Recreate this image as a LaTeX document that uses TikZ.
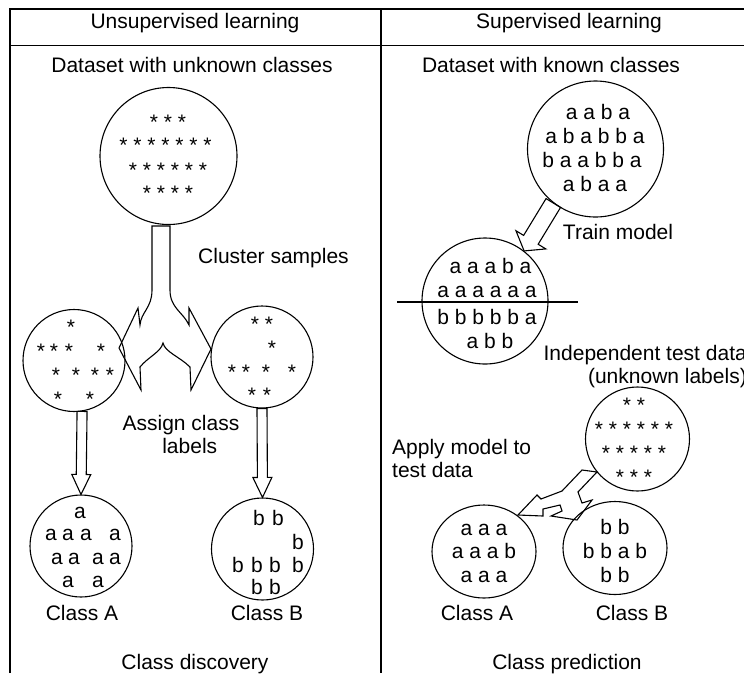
\documentclass[tikz,border=0pt]{standalone}
\usepackage{fontspec}
\setmainfont{Liberation Sans}
\usetikzlibrary{calc,shapes.geometric}

% block arrow: from, to, half shaft, half head, head length
\newcommand{\fatarrow}[5]{%
  \coordinate (fa-h) at ($(#2)!#5!(#1)$);
  \draw[fat] ($(#1)!#3!90:(#2)$) -- ($(fa-h)!#3!90:(#2)$) -- ($(fa-h)!#4!90:(#2)$) -- (#2)
    -- ($(fa-h)!#4!-90:(#2)$) -- ($(fa-h)!#3!-90:(#2)$) -- ($(#1)!#3!-90:(#2)$) -- cycle;
}

\begin{document}
\begin{tikzpicture}[x=1pt, y=-1pt,
  txt/.style={inner sep=0pt, font=\fontsize{21}{23.5}\selectfont},
  blob/.style={circle, draw, line width=1.1pt, inner sep=0pt},
  oval/.style={ellipse, draw, line width=1.1pt, inner sep=0pt, minimum width=104pt, minimum height=93pt},
  grid/.style={line width=1pt},
  fat/.style={draw, line width=1.1pt, line join=miter}
]
  \useasboundingbox (0,0) rectangle (744,673);
  \clip (0,0) rectangle (744,673);

  % table
  \draw[grid, line width=1.6pt] (10,673) -- (10,9) -- (760,9);
  \draw[grid] (10,45) -- (760,45);
  \draw[grid, line width=1.3pt] (381,9) -- (381,673);
  \node[txt, anchor=base] (hu) at (195,28) {Unsupervised learning};
  \node[txt, anchor=base] (hs) at (569,28) {Supervised learning};

  % --- unsupervised ---
  \node[txt, anchor=base] (du) at (192,72.5) {Dataset with unknown classes};
  \node[blob, minimum size=137pt] (ds) at (168.5,156) {};
  \foreach \t/\tx/\ty [count=\i] in {* * */168/129, * * * * * * */165.5/152, * * * * * */168/177, * * * */168/200}
    \node[txt, anchor=base] (ds\i) at (\tx,\ty) {\t};

  \node[blob, minimum size=102pt] (cl) at (74,360.5) {};
  \node[blob, minimum size=102pt] (cr) at (262,357) {};
  \foreach \gx/\gy [count=\i] in {71/334, 41/358, 54/358, 69/358, 101/358, 56/382, 76/382, 95/382, 110/382, 58/406, 90/406}
    \node[txt, anchor=base] (sl\i) at (\gx,\gy) {*};
  \foreach \gx/\gy [count=\i] in {255/331, 269/331, 272/355, 232/379, 246/379, 266/379, 292/379, 252/402, 267/402}
    \node[txt, anchor=base] (sr\i) at (\gx,\gy) {*};

  % cluster samples fork
  \draw[fat] (152,226) -- (152,290) .. controls (152,308) and (141,312) .. (140,325)
    -- (138,308) -- (119,348) -- (141,390) -- (140,367)
    .. controls (148,357) and (161,352) .. (163,343)
    .. controls (165,352) and (180,357) .. (190,367)
    -- (191,390) -- (211,349) -- (189,308) -- (189,325)
    .. controls (183,312) and (170,308) .. (170,290) -- (170,226) -- cycle;
  \node[txt, anchor=base] (cs) at (273.5,263) {Cluster samples};
  \node[txt, anchor=north, align=center] (acl) at (181,415) {Assign class\\~~~labels};

  \node[blob, minimum size=102pt] (ca) at (81,546) {};
  \node[blob, minimum size=102pt] (cb) at (262.5,549) {};
  \fatarrow{cl.-81}{ca.north}{5pt}{9.5pt}{20pt}
  \fatarrow{cr.south}{cb.north}{5pt}{9.5pt}{20pt}
  \foreach \gx/\gy [count=\i] in {80/518.5, 51/540.5, 68/540.5, 86/540.5, 115/540.5, 57/564.5, 74/564.5, 98/564.5, 115/564.5, 68/587.5, 98/587.5}
    \node[txt, anchor=base] (la\i) at (\gx,\gy) {a};
  \foreach \gx/\gy [count=\i] in {259/525.5, 278/525.5, 298/549.5, 238/572.5, 257/572.5, 275/572.5, 298/572.5, 257/594.5, 275/594.5}
    \node[txt, anchor=base] (lb\i) at (\gx,\gy) {b};
  \node[txt, anchor=base] (na) at (82,620.5) {Class A};
  \node[txt, anchor=base] (nb) at (267,620.5) {Class B};
  \node[txt, anchor=base] (cd) at (195,669) {Class discovery};

  % --- supervised ---
  \node[txt, anchor=base] (dkn) at (551,72.5) {Dataset with known classes};
  \node[blob, minimum size=136pt] (dk) at (595.5,149) {};
  \foreach \t/\tx/\ty [count=\i] in {a a b a/598/119.5, a b a b b a/595/143.5, b a a b b a/592/167.5, a b a a/595/191.5}
    \node[txt, anchor=base] (dk\i) at (\tx,\ty) {\t};

  \node[blob, minimum size=126pt] (dm) at (485,301) {};
  \foreach \t/\tx/\ty [count=\i] in {a a a b a/490.5/273.5, a a a a a a/487/297.5, b b b b b a/487/324, a b b/490/348}
    \node[txt, anchor=base] (dm\i) at (\tx,\ty) {\t};
  \draw[line width=1.1pt] ([xshift=-24pt,yshift=-1pt]dm.west) -- ([xshift=29pt,yshift=-1pt]dm.east);
  \fatarrow{dk.232}{dm.52}{8.5pt}{17.5pt}{13pt}
  \node[txt, anchor=base] (tm) at (618,239) {Train model};

  \node[txt, anchor=north east, align=right] (itd) at (747,345) {Independent test data\\(unknown labels)};
  \node[blob, minimum size=104pt] (dt) at (637.5,439) {};
  \foreach \t/\tx/\ty [count=\i] in {* */634/412, * * * * * */634/436, * * * * */634/460, * * */634/484}
    \node[txt, anchor=base] (dt\i) at (\tx,\ty) {\t};
  \node[txt, anchor=north west, align=left] (amt) at (392,439) {Apply model to\\test data};

  % apply model split arrow
  \draw[fat] (582,470) -- (562,491) -- (541,499) -- (537,495) -- (518,515) -- (543,516)
    -- (543,509) -- (560,505) -- (562,511) -- (551,516) -- (577,520) -- (592,500)
    -- (582,503) -- (578,492) -- (597,472) -- cycle;

  \node[oval] (pa) at (484,551.5) {};
  \node[oval] (pb) at (615,548) {};
  \foreach \t/\tx/\ty [count=\i] in {a a a/484/535, a a a b/484/558.5, a a a/484/582.5}
    \node[txt, anchor=base] (pa\i) at (\tx,\ty) {\t};
  \foreach \t/\tx/\ty [count=\i] in {b b/615/534.5, b b a b/615/558, b b/615/582.5}
    \node[txt, anchor=base] (pb\i) at (\tx,\ty) {\t};
  \node[txt, anchor=base] (npa) at (477,620.5) {Class A};
  \node[txt, anchor=base] (npb) at (632,620.5) {Class B};
  \node[txt, anchor=base] (cp) at (567,669) {Class prediction};
\end{tikzpicture}
\end{document}
